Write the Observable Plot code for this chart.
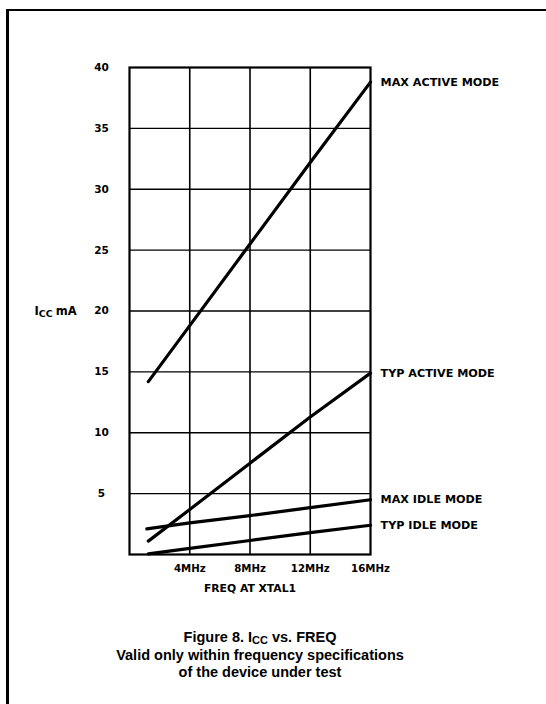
<!DOCTYPE html>
<html>
<head>
<meta charset="utf-8">
<script src="https://cdn.jsdelivr.net/npm/d3@7"></script>
<script src="https://cdn.jsdelivr.net/npm/@observablehq/plot@0.6"></script>
<style>
  html, body { margin: 0; padding: 0; background: #fff; width: 546px; height: 704px; overflow: hidden; }
  #frame { position: absolute; left: 6px; top: 9px; width: 700px; height: 800px;
           border-left: 3px solid #000; border-top: 2px solid #000; pointer-events: none; }
  #chart { position: absolute; left: 0; top: 0; }
  #caption { position: absolute; left: 0; top: 629px; width: 520px; text-align: center;
             font-family: "Liberation Sans", Arial, sans-serif; font-weight: bold; font-size: 14.5px;
             line-height: 17px; color: #000; }
  #caption .sub { font-size: 11px; position: relative; top: 2px; }
</style>
</head>
<body>
<div id="frame"></div>
<div id="chart"></div>
<div id="caption">Figure 8. I<span class="sub">CC</span> vs. FREQ<br>Valid only within frequency specifications<br>of the device under test</div>
<script>
// Tick values and labels
const xTicks = [4, 8, 12, 16];
const xTickLabels = ["4MHz", "8MHz", "12MHz", "16MHz"];
const xGrid = [4, 8, 12];
const yTicks = [5, 10, 15, 20, 25, 30, 35, 40];
const yGrid = [5, 10, 15, 20, 25, 30, 35];

// Series (frequency in MHz, Icc in mA)
const seriesNames = ["MAX ACTIVE MODE", "TYP ACTIVE MODE", "MAX IDLE MODE", "TYP IDLE MODE"];
const maxActiveF = [1.25, 4, 8, 12, 16];
const maxActiveI = [14.2, 18.8, 25.5, 32.2, 38.8];
const typActiveF = [1.25, 4, 8, 12, 16];
const typActiveI = [1.1, 3.7, 7.5, 11.3, 14.9];
const maxIdleF = [1.15, 4, 8, 12, 16];
const maxIdleI = [2.1, 2.6, 3.2, 3.85, 4.5];
const typIdleF = [1.25, 4, 8, 12, 16];
const typIdleI = [0.05, 0.5, 1.15, 1.8, 2.4];

const seriesF = [maxActiveF, typActiveF, maxIdleF, typIdleF];
const seriesI = [maxActiveI, typActiveI, maxIdleI, typIdleI];

const rows = [];
seriesNames.forEach((name, k) => {
  seriesF[k].forEach((f, j) => rows.push({series: name, f, i: seriesI[k][j]}));
});
const labelRows = seriesNames.map((name, k) => ({series: name, f: seriesF[k][seriesF[k].length - 1], i: seriesI[k][seriesI[k].length - 1]}));

const FONT = "'DejaVu Sans', sans-serif";

const chart = Plot.plot({
  width: 546,
  height: 610,
  marginLeft: 129,
  marginRight: 176,
  marginTop: 67,
  marginBottom: 56,
  x: {domain: [0, 16], axis: null},
  y: {domain: [0, 40], axis: null},
  style: {background: "transparent", fontFamily: FONT, color: "#000"},
  marks: [
    Plot.ruleX(xGrid, {stroke: "#000", strokeWidth: 1.6}),
    Plot.ruleY(yGrid, {stroke: "#000", strokeWidth: 1.4}),
    Plot.frame({stroke: "#000", strokeWidth: 2.2}),
    Plot.line(rows, {x: "f", y: "i", z: "series", stroke: "#000", strokeWidth: 3.2, strokeLinecap: "round"}),
    Plot.text(labelRows, {x: "f", y: "i", text: "series", dx: 10, textAnchor: "start",
      fontSize: 11.2, fontWeight: "bold", fill: "#000"}),
    Plot.text(yTicks, {y: d => d, text: d => String(d), frameAnchor: "left", dx: -28, textAnchor: "middle",
      fontSize: 10.5, fontWeight: "bold", fill: "#000"}),
    Plot.text(xTicks, {x: d => d, text: (d, i) => xTickLabels[i], frameAnchor: "bottom", dy: 17,
      fontSize: 10.2, fontWeight: "bold", fill: "#000"}),
    Plot.text(["FREQ AT XTAL1"], {x: 8, text: d => d, frameAnchor: "bottom", dy: 37,
      fontSize: 10.8, fontWeight: "bold", fill: "#000"}),
    Plot.text(["ICC mA"], {y: 20, text: d => d, frameAnchor: "left", dx: -95, textAnchor: "start",
      fontSize: 11.5, fontWeight: "bold", fill: "#000"})
  ]
});

// Render the subscript in the y-axis label
d3.select(chart).selectAll("text").each(function() {
  if (this.textContent === "ICC mA") {
    const t = d3.select(this);
    t.text(null);
    t.append("tspan").text("I");
    t.append("tspan").attr("font-size", 9.5).attr("dy", 2).text("CC");
    t.append("tspan").attr("dy", -2).attr("dx", 3).text("mA");
  }
});

document.getElementById("chart").appendChild(chart);
</script>
</body>
</html>
